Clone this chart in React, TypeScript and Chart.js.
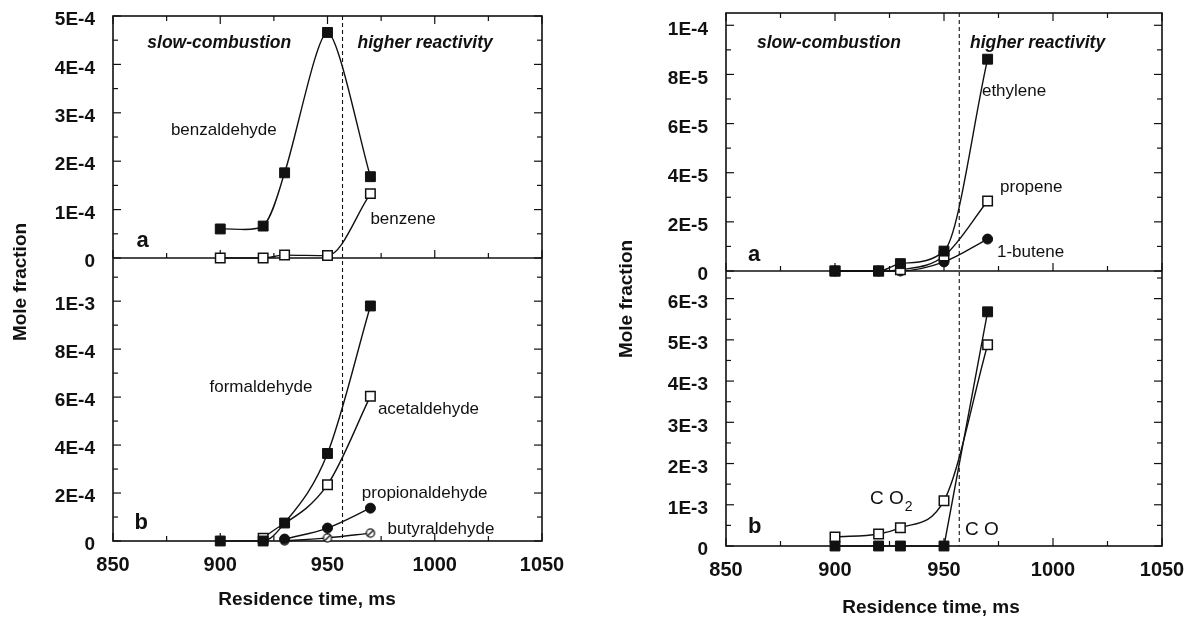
import React, { useEffect, useRef } from 'react';
import { Chart, registerables } from 'chart.js';

Chart.register(...registerables);

const FONT = "'Liberation Sans', Arial, Helvetica, sans-serif";
const INK = '#111111';

// ---------- shared x axis ----------
const xTicks = [850, 900, 950, 1000, 1050];
const xTickLabels = ['850', '900', '950', '1000', '1050'];
const regimeBoundary = 957;

// ---------- left figure: aldehydes / benzene ----------
const benzX = [900, 920, 930, 950, 970];
const benzaldehyde = [0.6e-4, 0.66e-4, 1.76e-4, 4.66e-4, 1.68e-4];
const benzene = [0, 0, 0.06e-4, 0.05e-4, 1.33e-4];

const formaldehydeX = [900, 920, 930, 950, 970];
const formaldehyde = [0, 0, 0.75e-4, 3.65e-4, 9.8e-4];
const acetaldehydeX = [920, 950, 970];
const acetaldehyde = [0.12e-4, 2.35e-4, 6.04e-4];
const propionaldehydeX = [930, 950, 970];
const propionaldehyde = [0.08e-4, 0.54e-4, 1.37e-4];
const butyraldehydeX = [930, 950, 970];
const butyraldehyde = [0, 0.13e-4, 0.33e-4];

const leftATicks = [0, 1e-4, 2e-4, 3e-4, 4e-4, 5e-4];
const leftATickLabels = ['0', '1E-4', '2E-4', '3E-4', '4E-4', '5E-4'];
const leftBTicks = [0, 2e-4, 4e-4, 6e-4, 8e-4, 1e-3];
const leftBTickLabels = ['0', '2E-4', '4E-4', '6E-4', '8E-4', '1E-3'];

// ---------- right figure: alkenes / CO, CO2 ----------
const alkeneX = [900, 920, 930, 950, 970];
const ethylene = [0, 0, 0.3e-5, 0.81e-5, 8.62e-5];
const propene = [0, 0, 0.05e-5, 0.61e-5, 2.85e-5];
const butene1 = [0, 0, 0, 0.37e-5, 1.3e-5];

const oxidesX = [900, 920, 930, 950, 970];
const co = [0, 0, 0, 0, 5.68e-3];
const co2 = [0.22e-3, 0.29e-3, 0.44e-3, 1.1e-3, 4.88e-3];

const rightATicks = [0, 2e-5, 4e-5, 6e-5, 8e-5, 1e-4];
const rightATickLabels = ['0', '2E-5', '4E-5', '6E-5', '8E-5', '1E-4'];
const rightBTicks = [0, 1e-3, 2e-3, 3e-3, 4e-3, 5e-3, 6e-3];
const rightBTickLabels = ['0', '1E-3', '2E-3', '3E-3', '4E-3', '5E-3', '6E-3'];

type Marker = 'fsq' | 'osq' | 'fci' | 'sci';
type Curve = 'mono' | 'spline' | 'straight';
type Series = { label: string; x: number[]; y: number[]; axis: 'ya' | 'yb'; marker: Marker; curve: Curve };
type Note = { text: string; x: number; y: number; axis: 'ya' | 'yb'; kind: 'region' | 'species' | 'panel' | 'gas'; sub?: string };

const leftSeries: Series[] = [
  { label: 'benzaldehyde', x: benzX, y: benzaldehyde, axis: 'ya', marker: 'fsq', curve: 'spline' },
  { label: 'benzene', x: benzX, y: benzene, axis: 'ya', marker: 'osq', curve: 'mono' },
  { label: 'formaldehyde', x: formaldehydeX, y: formaldehyde, axis: 'yb', marker: 'fsq', curve: 'mono' },
  { label: 'acetaldehyde', x: acetaldehydeX, y: acetaldehyde, axis: 'yb', marker: 'osq', curve: 'mono' },
  { label: 'propionaldehyde', x: propionaldehydeX, y: propionaldehyde, axis: 'yb', marker: 'fci', curve: 'mono' },
  { label: 'butyraldehyde', x: butyraldehydeX, y: butyraldehyde, axis: 'yb', marker: 'sci', curve: 'mono' },
];

const rightSeries: Series[] = [
  { label: 'ethylene', x: alkeneX, y: ethylene, axis: 'ya', marker: 'fsq', curve: 'mono' },
  { label: 'propene', x: alkeneX, y: propene, axis: 'ya', marker: 'osq', curve: 'mono' },
  { label: '1-butene', x: alkeneX, y: butene1, axis: 'ya', marker: 'fci', curve: 'mono' },
  { label: 'CO', x: oxidesX, y: co, axis: 'yb', marker: 'fsq', curve: 'straight' },
  { label: 'CO2', x: oxidesX, y: co2, axis: 'yb', marker: 'osq', curve: 'mono' },
];

const leftNotes: Note[] = [
  { text: 'slow-combustion', x: 866, y: 4.44e-4, axis: 'ya', kind: 'region' },
  { text: 'higher reactivity', x: 964, y: 4.44e-4, axis: 'ya', kind: 'region' },
  { text: 'benzaldehyde', x: 877, y: 2.64e-4, axis: 'ya', kind: 'species' },
  { text: 'benzene', x: 970, y: 0.79e-4, axis: 'ya', kind: 'species' },
  { text: 'a', x: 861, y: 0.35e-4, axis: 'ya', kind: 'panel' },
  { text: 'formaldehyde', x: 895, y: 0.64e-3, axis: 'yb', kind: 'species' },
  { text: 'acetaldehyde', x: 973.5, y: 0.55e-3, axis: 'yb', kind: 'species' },
  { text: 'propionaldehyde', x: 966, y: 0.2e-3, axis: 'yb', kind: 'species' },
  { text: 'butyraldehyde', x: 978, y: 0.05e-3, axis: 'yb', kind: 'species' },
  { text: 'b', x: 860, y: 0.075e-3, axis: 'yb', kind: 'panel' },
];

const rightNotes: Note[] = [
  { text: 'slow-combustion', x: 864.2, y: 9.27e-5, axis: 'ya', kind: 'region' },
  { text: 'higher reactivity', x: 961.9, y: 9.27e-5, axis: 'ya', kind: 'region' },
  { text: 'ethylene', x: 967.4, y: 7.32e-5, axis: 'ya', kind: 'species' },
  { text: 'propene', x: 975.7, y: 3.41e-5, axis: 'ya', kind: 'species' },
  { text: '1-butene', x: 974.3, y: 0.77e-5, axis: 'ya', kind: 'species' },
  { text: 'a', x: 860.1, y: 0.65e-5, axis: 'ya', kind: 'panel' },
  { text: 'b', x: 860.1, y: 0.46e-3, axis: 'yb', kind: 'panel' },
  { text: 'C O', sub: '2', x: 916, y: 1.14e-3, axis: 'yb', kind: 'gas' },
  { text: 'C O', x: 959.6, y: 0.39e-3, axis: 'yb', kind: 'gas' },
];

type Spec = {
  series: Series[];
  notes: Note[];
  aMax: number; bMax: number;
  aTicks: number[]; aLabels: string[]; aMinor: number;
  bTicks: number[]; bLabels: string[]; bMinor: number;
  weights: [number, number];
  padTop: number; padRight: number;
  yAxisWidth: number; xAxisHeight: number;
  yTitle: { x: number; y: number };
  xTitle: { x: number; y: number };
};

const leftSpec: Spec = {
  series: leftSeries, notes: leftNotes,
  aMax: 5e-4, bMax: 1.18e-3,
  aTicks: leftATicks, aLabels: leftATickLabels, aMinor: 0.5e-4,
  bTicks: leftBTicks, bLabels: leftBTickLabels, bMinor: 1e-4,
  weights: [242, 283], padTop: 16, padRight: 52, yAxisWidth: 113, xAxisHeight: 78,
  yTitle: { x: 21, y: 282 }, xTitle: { x: 307, y: 600 },
};

const rightSpec: Spec = {
  series: rightSeries, notes: rightNotes,
  aMax: 1.05e-4, bMax: 6.67e-3,
  aTicks: rightATicks, aLabels: rightATickLabels, aMinor: 1e-5,
  bTicks: rightBTicks, bLabels: rightBTickLabels, bMinor: 0.5e-3,
  weights: [258, 275], padTop: 13, padRight: 26, yAxisWidth: 132, xAxisHeight: 73,
  yTitle: { x: 33, y: 299 }, xTitle: { x: 337, y: 608 },
};

function makeSlashedCircle(): HTMLCanvasElement {
  const c = document.createElement('canvas');
  c.width = 12; c.height = 12;
  const g = c.getContext('2d')!;
  g.fillStyle = '#fff';
  g.beginPath(); g.arc(6, 6, 4.1, 0, Math.PI * 2); g.fill();
  g.strokeStyle = INK; g.lineWidth = 1.3; g.stroke();
  g.beginPath(); g.moveTo(3.2, 8.8); g.lineTo(8.8, 3.2); g.stroke();
  return c;
}

function markerStyle(m: Marker, slashed: HTMLCanvasElement) {
  switch (m) {
    case 'fsq': return { pointStyle: 'rect', pointRadius: 7, pointBackgroundColor: INK, pointBorderColor: INK, pointBorderWidth: 1 };
    case 'osq': return { pointStyle: 'rect', pointRadius: 6.7, pointBackgroundColor: '#ffffff', pointBorderColor: INK, pointBorderWidth: 1.5 };
    case 'fci': return { pointStyle: 'circle', pointRadius: 5, pointBackgroundColor: INK, pointBorderColor: INK, pointBorderWidth: 1 };
    default: return { pointStyle: slashed, pointRadius: 5, pointBackgroundColor: '#ffffff', pointBorderColor: INK, pointBorderWidth: 1 };
  }
}

function curveStyle(c: Curve) {
  if (c === 'mono') return { cubicInterpolationMode: 'monotone', tension: 0 };
  if (c === 'spline') return { cubicInterpolationMode: 'default', tension: 0.25 };
  return { cubicInterpolationMode: 'default', tension: 0 };
}

function noteFont(kind: Note['kind']) {
  if (kind === 'region') return `italic bold 17.5px ${FONT}`;
  if (kind === 'panel') return `bold 22px ${FONT}`;
  if (kind === 'gas') return `19px ${FONT}`;
  return `17px ${FONT}`;
}

function buildChart(canvas: HTMLCanvasElement, spec: Spec) {
  const slashed = makeSlashedCircle();
  const datasets = spec.series.map((s) => ({
    label: s.label,
    data: s.x.map((x, i) => ({ x, y: s.y[i] })),
    yAxisID: s.axis,
    borderColor: INK,
    borderWidth: 1.4,
    clip: false,
    ...curveStyle(s.curve),
    ...markerStyle(s.marker, slashed),
  }));

  const tickFont = { family: FONT, size: 19, weight: 'bold' as const };

  const decor = {
    id: 'decor',
    beforeDatasetsDraw(chart: any) {
      const ctx = chart.ctx as CanvasRenderingContext2D;
      const ca = chart.chartArea;
      const xs = chart.scales.x, ya = chart.scales.ya, yb = chart.scales.yb;
      const divY = ya.getPixelForValue(0);
      const seg = (x1: number, y1: number, x2: number, y2: number) => {
        ctx.beginPath(); ctx.moveTo(x1, y1); ctx.lineTo(x2, y2); ctx.stroke();
      };
      ctx.save();
      ctx.strokeStyle = INK;
      ctx.lineWidth = 1.6;
      ctx.strokeRect(ca.left, ca.top, ca.right - ca.left, ca.bottom - ca.top);
      seg(ca.left, divY, ca.right, divY);

      ctx.lineWidth = 1.2;
      for (let k = 0; ; k++) {
        const v = xTicks[0] + k * 25;
        if (v > xTicks[xTicks.length - 1] + 1e-9) break;
        const px = xs.getPixelForValue(v);
        const L = xTicks.includes(v) ? 8 : 5;
        seg(px, ca.bottom, px, ca.bottom - L);
        seg(px, ca.top, px, ca.top + L);
        seg(px, divY, px, divY - L);
      }
      const panels = [
        { sc: ya, major: spec.aTicks, minor: spec.aMinor },
        { sc: yb, major: spec.bTicks, minor: spec.bMinor },
      ];
      for (const p of panels) {
        for (let k = 0; ; k++) {
          const v = k * p.minor;
          if (v > p.sc.max * 1.0001) break;
          const py = p.sc.getPixelForValue(v);
          const isMajor = p.major.some((m: number) => Math.abs(m - v) < p.minor * 1e-3);
          const L = isMajor ? 8 : 5;
          seg(ca.left, py, ca.left + L, py);
          seg(ca.right, py, ca.right - L, py);
        }
      }
      ctx.setLineDash([4, 3]);
      ctx.lineWidth = 1.1;
      const bx = xs.getPixelForValue(regimeBoundary);
      seg(bx, ca.top, bx, ca.bottom);
      ctx.restore();
    },
    afterDatasetsDraw(chart: any) {
      const ctx = chart.ctx as CanvasRenderingContext2D;
      const xs = chart.scales.x;
      ctx.save();
      ctx.fillStyle = INK;
      ctx.textBaseline = 'middle';
      ctx.textAlign = 'left';
      for (const n of spec.notes) {
        const px = xs.getPixelForValue(n.x);
        const py = chart.scales[n.axis].getPixelForValue(n.y);
        ctx.font = noteFont(n.kind);
        ctx.fillText(n.text, px, py);
        if (n.sub) {
          const w = ctx.measureText(n.text).width;
          ctx.font = `14px ${FONT}`;
          ctx.fillText(n.sub, px + w + 1, py + 8);
        }
      }
      ctx.font = `bold 19px ${FONT}`;
      ctx.textAlign = 'center';
      ctx.fillText('Residence time, ms', spec.xTitle.x, spec.xTitle.y);
      ctx.translate(spec.yTitle.x, spec.yTitle.y);
      ctx.rotate(-Math.PI / 2);
      ctx.fillText('Mole fraction', 0, 0);
      ctx.restore();
    },
  };

  const yAxis = (max: number, ticks: number[], labels: string[], weight: number) => ({
    type: 'linear',
    position: 'left',
    stack: 'panels',
    stackWeight: weight,
    min: 0,
    max,
    afterBuildTicks: (s: any) => { s.ticks = ticks.map((v) => ({ value: v })); },
    afterFit: (s: any) => { s.width = spec.yAxisWidth; s.paddingTop = 0; s.paddingBottom = 0; },
    ticks: { callback: (_v: any, i: number) => labels[i], font: tickFont, color: INK, padding: 18, labelOffset: 4, autoSkip: false },
    grid: { display: false, drawTicks: false },
    border: { display: false },
  });

  return new Chart(canvas, {
    type: 'line',
    data: { datasets: datasets as any },
    options: {
      responsive: false,
      animation: false,
      devicePixelRatio: 1,
      parsing: false as any,
      layout: { padding: { top: spec.padTop, right: spec.padRight, left: 0, bottom: 0 } },
      plugins: { legend: { display: false }, tooltip: { enabled: false } },
      scales: {
        x: {
          type: 'linear',
          position: 'bottom',
          min: xTicks[0],
          max: xTicks[xTicks.length - 1],
          afterBuildTicks: (s: any) => { s.ticks = xTicks.map((v) => ({ value: v })); },
          afterFit: (s: any) => { s.height = spec.xAxisHeight; s.paddingLeft = 0; s.paddingRight = 0; },
          ticks: { callback: (_v: any, i: number) => xTickLabels[i], font: { family: FONT, size: 20, weight: 'bold' }, color: INK, padding: 12, maxRotation: 0, autoSkip: false },
          grid: { display: false, drawTicks: false },
          border: { display: false },
        },
        yb: yAxis(spec.bMax, spec.bTicks, spec.bLabels, spec.weights[1]),
        ya: yAxis(spec.aMax, spec.aTicks, spec.aLabels, spec.weights[0]),
      } as any,
    },
    plugins: [decor],
  });
}

export default function App() {
  const leftRef = useRef<HTMLCanvasElement>(null);
  const rightRef = useRef<HTMLCanvasElement>(null);
  useEffect(() => {
    const c1 = buildChart(leftRef.current!, leftSpec);
    const c2 = buildChart(rightRef.current!, rightSpec);
    return () => { c1.destroy(); c2.destroy(); };
  }, []);
  return (
    <div style={{ position: 'absolute', left: 0, top: 0, width: 1188, height: 619, background: '#ffffff' }}>
      <canvas ref={leftRef} width={594} height={619} style={{ position: 'absolute', left: 0, top: 0, width: 594, height: 619 }} />
      <canvas ref={rightRef} width={594} height={619} style={{ position: 'absolute', left: 594, top: 0, width: 594, height: 619 }} />
    </div>
  );
}
